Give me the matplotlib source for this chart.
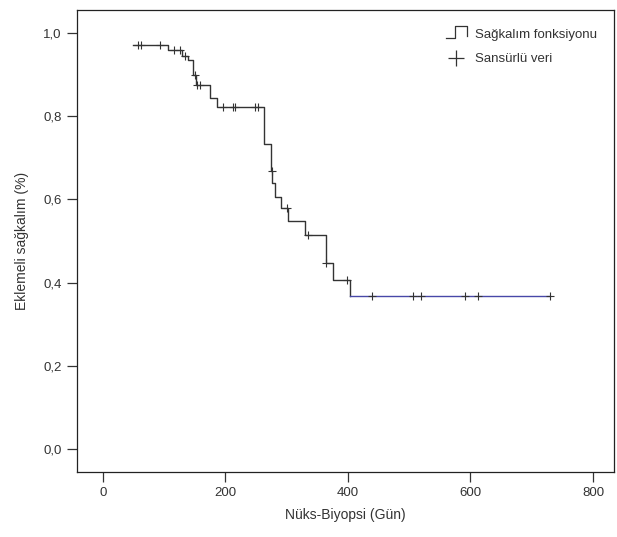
import matplotlib
matplotlib.use("Agg")
import matplotlib.pyplot as plt
import numpy as np
from matplotlib.lines import Line2D
from matplotlib.legend_handler import HandlerBase

plt.rcParams['font.family'] = ['Liberation Sans', 'DejaVu Sans']

# Kaplan-Meier step data (days, survival)
event_times = [49, 106, 130, 139, 148, 152, 175, 186, 263, 274, 277, 281, 291, 302, 330, 364, 376, 403]
event_surv = [0.971, 0.959, 0.945, 0.935, 0.90, 0.875, 0.844, 0.822, 0.733, 0.667, 0.639, 0.606,
              0.579, 0.548, 0.514, 0.446, 0.406, 0.367]
end_time = 730
censor_times = [58, 62, 93, 116, 126, 135, 150, 154, 158, 196, 212, 216, 248, 253, 276, 300,
                335, 365, 399, 439, 507, 519, 591, 613, 730]

x_ticks = [0, 200, 400, 600, 800]
y_ticks = [0.0, 0.2, 0.4, 0.6, 0.8, 1.0]
y_ticklabels = ["0,0", "0,2", "0,4", "0,6", "0,8", "1,0"]
x_label = "Nüks-Biyopsi (Gün)"
y_label = "Eklemeli sağkalım (%)"
legend_labels = ["Sağkalım fonksiyonu", "Sansürlü veri"]

line_color = "#333333"
tail_color = "#4848a8"

fig = plt.figure(figsize=(6.17, 5.37), dpi=100)
ax = fig.add_axes([0.1248, 0.121, 0.870, 0.8604])

et = np.array(event_times, dtype=float)
es = np.array(event_surv, dtype=float)

# main step curve up to the last event
ax.step(et, es, where='post', color=line_color, lw=1.0)
# flat tail
ax.plot([et[-1], end_time], [es[-1], es[-1]], color=tail_color, lw=1.0)

# censored marks on the step function
ct = np.array(censor_times, dtype=float)
idx = np.searchsorted(et, ct, side='right') - 1
cs = es[idx]
ax.plot(ct, cs, linestyle='none', marker='+', markersize=6, mew=0.8, color=line_color)

ax.set_xlim(-42, 834)
ax.set_ylim(-0.055, 1.055)
ax.set_xticks(x_ticks)
ax.set_yticks(y_ticks)
ax.set_yticklabels(y_ticklabels)
ax.tick_params(direction='out', length=7, width=0.9, labelsize=9.5, colors='#333333', pad=4)
for sp in ax.spines.values():
    sp.set_color('#222222')
    sp.set_linewidth(0.9)

ax.set_xlabel(x_label, fontsize=10, color='#333333', labelpad=6)
ax.set_ylabel(y_label, fontsize=10, color='#333333', labelpad=10)


class StepHandler(HandlerBase):
    def create_artists(self, legend, orig_handle, xdescent, ydescent, width, height, fontsize, trans):
        x0 = -xdescent
        xs = [x0, x0 + width * 0.45, x0 + width * 0.45, x0 + width, x0 + width]
        ys = [-ydescent, -ydescent, height * 1.3, height * 1.3, -ydescent + height * 0.2]
        ln = Line2D(xs, ys, color=line_color, lw=0.9)
        ln.set_transform(trans)
        return [ln]


step_handle = Line2D([], [], color=line_color)
cens_handle = Line2D([], [], linestyle='none', marker='+', markersize=11, mew=0.9, color=line_color)
leg = ax.legend([step_handle, cens_handle], legend_labels, loc='upper right',
                handler_map={step_handle: StepHandler()}, frameon=False, fontsize=9.5,
                handlelength=1.6, handletextpad=0.6, labelspacing=0.9,
                bbox_to_anchor=(0.99, 0.985))
for t in leg.get_texts():
    t.set_color('#333333')

fig.savefig("out.png", dpi=100)
